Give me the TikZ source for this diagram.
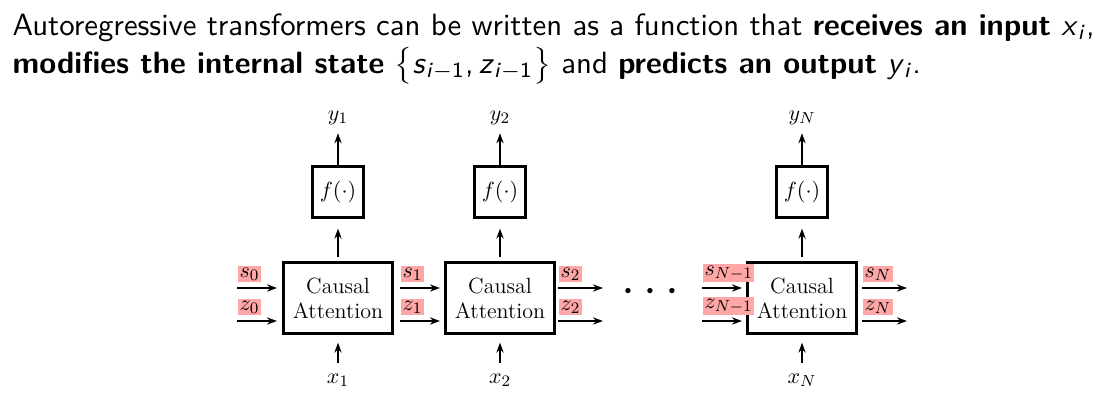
\documentclass[tikz,border=0pt]{standalone}
\usepackage{amsmath}
\usetikzlibrary{arrows.meta}

\newcommand{\mi}[1]{\textit{#1}}

\begin{document}
\begin{tikzpicture}[>={Stealth[length=5pt,width=3.6pt]}, x=0.5pt, y=-0.5pt]
        \tikzset{
            ca/.style={draw, line width=1.1pt, minimum width=54.5pt, minimum height=35.5pt, align=center, inner sep=1pt, font=\fontsize{11}{12.5}\selectfont},
            fn/.style={draw, line width=1.1pt, minimum size=25.5pt, inner sep=1pt, font=\fontsize{11}{12.5}\selectfont},
            io/.style={inner sep=1pt, font=\fontsize{11}{12.5}\selectfont},
            st/.style={fill=red!35, inner sep=0.8pt, pos=0, anchor=south west, yshift=2.5pt, font=\fontsize{11}{12.5}\selectfont},
            head/.style={anchor=base west, inner sep=0pt, scale=1.54, transform shape, font=\sffamily\fontsize{10}{12}\selectfont},
            link/.style={->, line width=1pt}
        }
        \useasboundingbox (0,0) rectangle (1112,402);

        % header
        \node[head] (H1) at (12,35)
            {Autoregressive transformers can be written as a function that \textbf{receives an input} \mi{x}\textsubscript{\mi{i}},};
        \node[head] (H2) at (12,73)
            {\textbf{modifies the internal state} $\big\{$\mi{s}\textsubscript{\mi{i}$-$1},\,\mi{z}\textsubscript{\mi{i}$-$1}$\big\}$ and \textbf{predicts an output} \mi{y}\textsubscript{\mi{i}}.};

        % blocks
        \node[ca] (A1) at (338,298) {Causal\\Attention};
        \node[ca] (A2) at (500,298) {Causal\\Attention};
        \node[ca] (A3) at (802,298) {Causal\\Attention};
        \node[fn] (F1) at (338,192) {$f(\cdot)$};
        \node[fn] (F2) at (500,192) {$f(\cdot)$};
        \node[fn] (F3) at (802,192) {$f(\cdot)$};
        \node[io] (Y1) at (338,118) {$y_1$};
        \node[io] (Y2) at (500,118) {$y_2$};
        \node[io] (Y3) at (802,118) {$y_N$};
        \node[io] (X1) at (338,380) {$x_1$};
        \node[io] (X2) at (500,380) {$x_2$};
        \node[io] (X3) at (802,380) {$x_N$};
        \node (dots) at (655,292) {\fontsize{24}{24}\selectfont$\cdots$};

        % vertical links
        \foreach \i in {1,2,3}{
            \draw[link, shorten <=2pt, shorten >=5pt] (A\i) -- (F\i);
            \draw[link, shorten <=0pt, shorten >=3pt] (F\i) -- (Y\i);
            \draw[link, shorten <=4pt, shorten >=4pt] (X\i) -- (A\i);
        }

        % state ends
        \coordinate (s0) at (237,288);  \coordinate (z0) at (237,321);
        \coordinate (s2) at (558,288);  \coordinate (z2) at (558,321);
        \coordinate (s3) at (702,288);  \coordinate (z3) at (702,321);
        \coordinate (s4) at (907,288);  \coordinate (z4) at (907,321);
        \coordinate (i1s) at (283,288); \coordinate (i1z) at (283,321);
        \coordinate (i2s) at (446,288); \coordinate (i2z) at (446,321);
        \coordinate (i3s) at (748,288); \coordinate (i3z) at (748,321);
        \coordinate (o1s) at (400,288); \coordinate (o1z) at (400,321);
        \coordinate (o3s) at (862,288); \coordinate (o3z) at (862,321);
        \coordinate (e2s) at (603,288); \coordinate (e2z) at (603,321);

        % state links
        \draw[link, shorten >=3pt] (s0) to node[st] {$s_0$} (i1s);
        \draw[link, shorten >=3pt] (z0) to node[st] {$z_0$} (i1z);
        \draw[link, shorten >=3pt] (o1s) to node[st] {$s_1$} (i2s);
        \draw[link, shorten >=3pt] (o1z) to node[st] {$z_1$} (i2z);
        \draw[link] (s2) to node[st] {$s_2$} (e2s);
        \draw[link] (z2) to node[st] {$z_2$} (e2z);
        \draw[link, shorten >=3pt] (s3) to node[st] {$s_{N-1}$} (i3s);
        \draw[link, shorten >=3pt] (z3) to node[st] {$z_{N-1}$} (i3z);
        \draw[link] (o3s) to node[st] {$s_N$} (s4);
        \draw[link] (o3z) to node[st] {$z_N$} (z4);
        \end{tikzpicture}
\end{document}
